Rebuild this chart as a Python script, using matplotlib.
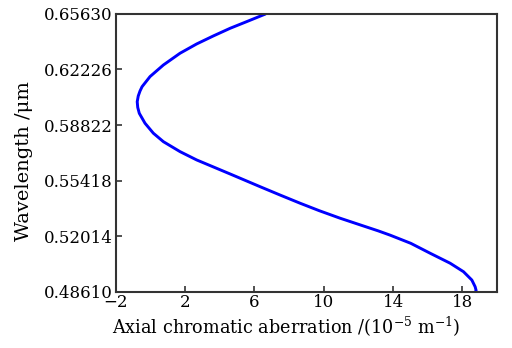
import matplotlib
matplotlib.use("Agg")
import matplotlib.pyplot as plt

# values (wavelength in um, aberration in 1e-5 m^-1)
wavelength = [0.4861, 0.4867, 0.4891, 0.4932, 0.4983, 0.5035, 0.5096, 0.5157,
              0.5207, 0.5233, 0.5270, 0.5311, 0.5357, 0.5403, 0.5453, 0.5504,
              0.5582, 0.5623, 0.5668, 0.5719, 0.5780, 0.5832, 0.5893, 0.5954,
              0.5990, 0.6025, 0.6060, 0.6090, 0.6117, 0.6179, 0.6250, 0.6322,
              0.6379, 0.6428, 0.6475, 0.6516, 0.6563]
aberration = [18.76, 18.79, 18.73, 18.54, 18.06, 17.29, 16.14, 15.02,
              13.83, 13.15, 12.10, 10.94, 9.74, 8.63, 7.48, 6.33,
              4.60, 3.68, 2.67, 1.71, 0.75, 0.17, -0.31, -0.64,
              -0.73, -0.76, -0.70, -0.60, -0.48, -0.02, 0.75, 1.71,
              2.67, 3.63, 4.60, 5.56, 6.65]

x_ticks = [-2, 2, 6, 10, 14, 18]
y_ticks = [0.48610, 0.52014, 0.55418, 0.58822, 0.62226, 0.65630]
y_tick_labels = ["0.48610", "0.52014", "0.55418", "0.58822", "0.62226", "0.65630"]

plt.rcParams['font.family'] = ['DejaVu Serif']
plt.rcParams['mathtext.fontset'] = 'dejavuserif'

fig = plt.figure(figsize=(5.12, 3.48), dpi=100)
ax = fig.add_axes([0.226, 0.162, 0.745, 0.798])

ax.plot(aberration, wavelength, color='#0000ff', linewidth=2.1,
        solid_joinstyle='round', solid_capstyle='butt')

ax.set_xlim(-2, 20)
ax.set_ylim(0.4861, 0.6563)
ax.set_xticks(x_ticks)
ax.set_yticks(y_ticks)
ax.set_yticklabels(y_tick_labels)

for s in ax.spines.values():
    s.set_color('#333333')
    s.set_linewidth(1.5)
ax.tick_params(direction='in', length=4, width=1.2, color='#333333',
               labelsize=12, pad=2, top=False, right=False)

ax.set_xlabel(r'Axial chromatic aberration /(10$^{-5}$ m$^{-1}$)', fontsize=12.7, labelpad=1)
ax.xaxis.set_label_coords(0.447, -0.085, transform=ax.transAxes)
ax.xaxis.label.set_va('top')
ax.set_ylabel('Wavelength /μm', fontsize=14)
ax.yaxis.set_label_coords(-0.217, 0.47, transform=ax.transAxes)

fig.savefig('out.png', dpi=100)
